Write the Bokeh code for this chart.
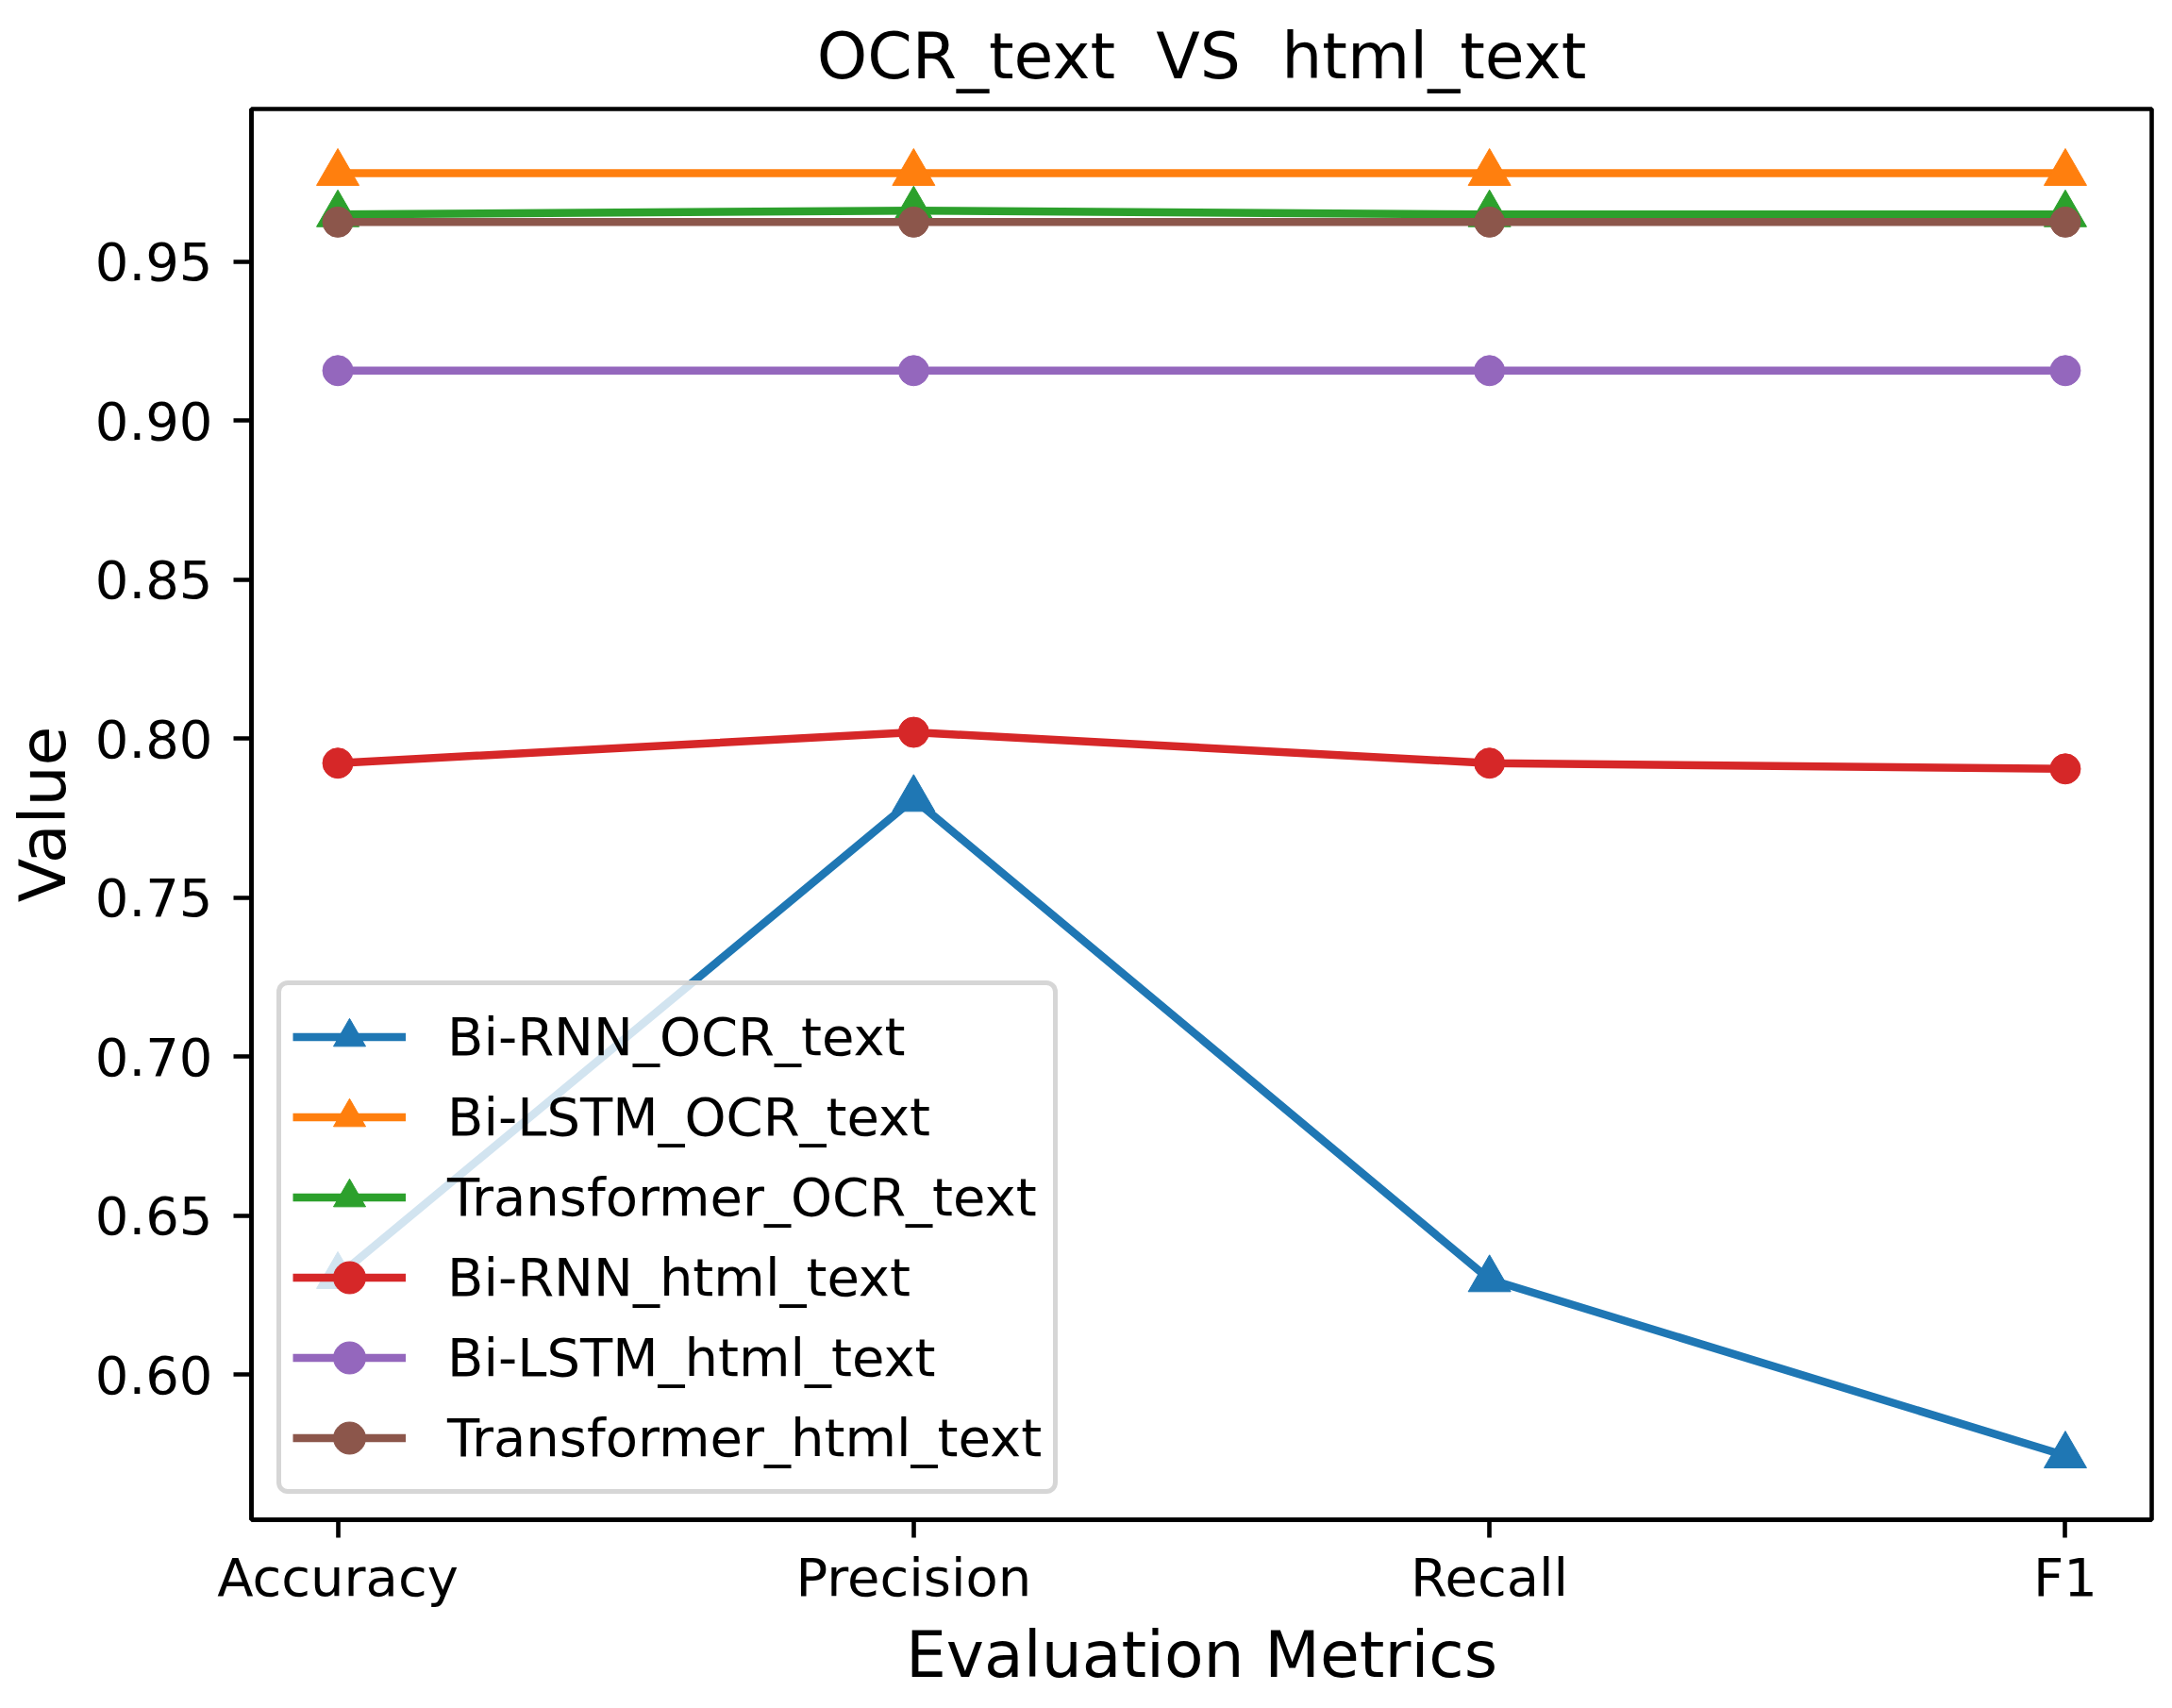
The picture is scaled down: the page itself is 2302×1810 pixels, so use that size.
from bokeh.plotting import figure
from bokeh.models import Range1d, FixedTicker, PrintfTickFormatter, Legend
from bokeh.embed import file_html
from bokeh.resources import INLINE

metrics = ["Accuracy", "Precision", "Recall", "F1"]
bi_rnn_ocr = [0.631, 0.781, 0.630, 0.5746]
bi_lstm_ocr = [0.9778, 0.9778, 0.9778, 0.9778]
transformer_ocr = [0.9648, 0.966, 0.9648, 0.9648]
bi_rnn_html = [0.7923, 0.802, 0.7923, 0.7905]
bi_lstm_html = [0.9157, 0.9157, 0.9157, 0.9157]
transformer_html = [0.9624, 0.9624, 0.9624, 0.9624]
y_ticks = [0.60, 0.65, 0.70, 0.75, 0.80, 0.85, 0.90, 0.95]
title_text = "OCR_text \u00a0VS \u00a0html_text"

series = [
    ("Bi-RNN_OCR_text", bi_rnn_ocr, "#1f77b4", "triangle"),
    ("Bi-LSTM_OCR_text", bi_lstm_ocr, "#ff7f0e", "triangle"),
    ("Transformer_OCR_text", transformer_ocr, "#2ca02c", "triangle"),
    ("Bi-RNN_html_text", bi_rnn_html, "#d62728", "circle"),
    ("Bi-LSTM_html_text", bi_lstm_html, "#9467bd", "circle"),
    ("Transformer_html_text", transformer_html, "#8c564b", "circle"),
]

xs = list(range(len(metrics)))
all_vals = [v for _, vals, _, _ in series for v in vals]
lo, hi = min(all_vals), max(all_vals)
pad = 0.05 * (hi - lo)
xpad = 0.05 * (len(metrics) - 1)

FONT = "DejaVu Sans"
W, H = 2286, 1800

p = figure(width=W, height=H, output_backend="svg", toolbar_location=None,
           x_range=Range1d(-xpad, len(metrics) - 1 + xpad),
           y_range=Range1d(lo - pad, hi + pad),
           title=title_text,
           min_border_left=266, min_border_right=W - 2280,
           min_border_top=110, min_border_bottom=H - 1610)

p.title.align = "center"
p.title.text_font = FONT
p.title.text_font_size = "68px"
p.title.text_font_style = "normal"
p.title.text_color = "black"
p.title.standoff = 34

p.xgrid.visible = False
p.ygrid.visible = False
p.outline_line_color = "black"
p.outline_line_width = 4.6
p.outline_line_alpha = 1.0

p.xaxis.ticker = FixedTicker(ticks=xs)
p.xaxis.major_label_overrides = {i: m for i, m in enumerate(metrics)}
p.yaxis.ticker = FixedTicker(ticks=y_ticks)
p.yaxis.formatter = PrintfTickFormatter(format="%.2f")

p.xaxis.axis_label = "Evaluation Metrics"
p.yaxis.axis_label = "Value"

for ax in (p.xaxis, p.yaxis):
    ax.axis_line_color = "black"
    ax.axis_line_width = 4.6
    ax.major_tick_line_color = "black"
    ax.major_tick_line_width = 4.6
    ax.major_tick_in = 0
    ax.major_tick_out = 19
    ax.minor_tick_line_color = None
    ax.major_label_text_font = FONT
    ax.major_label_text_font_size = "56px"
    ax.major_label_text_color = "black"
    ax.axis_label_text_font = FONT
    ax.axis_label_text_font_size = "68px"
    ax.axis_label_text_font_style = "normal"
    ax.axis_label_text_color = "black"

p.xaxis.major_label_standoff = 9
p.xaxis.axis_label_standoff = 7
p.yaxis.major_label_standoff = 22
p.yaxis.axis_label_standoff = 13

items = []
for name, vals, color, marker in series:
    r1 = p.line(xs, vals, line_color=color, line_width=8.5, line_join="round")
    size = 45 if marker == "triangle" else 32
    r2 = p.scatter(xs, vals, marker=marker, size=size, fill_color=color,
                   line_color=color, line_width=1)
    items.append((name, [r1, r2]))

legend = Legend(items=items, location="bottom_left")
legend.margin = 27
legend.padding = 12
legend.spacing = 0
legend.glyph_width = 120
legend.glyph_height = 85
legend.label_height = 85
legend.label_standoff = 44
legend.label_text_font = FONT
legend.label_text_font_size = "56px"
legend.label_text_color = "black"
legend.background_fill_color = "white"
legend.background_fill_alpha = 0.8
legend.border_line_color = "#cccccc"
legend.border_line_alpha = 0.8
legend.border_line_width = 5.5
legend.border_radius = 12
p.add_layout(legend, "center")

open("out.html", "w").write(file_html(p, INLINE))
